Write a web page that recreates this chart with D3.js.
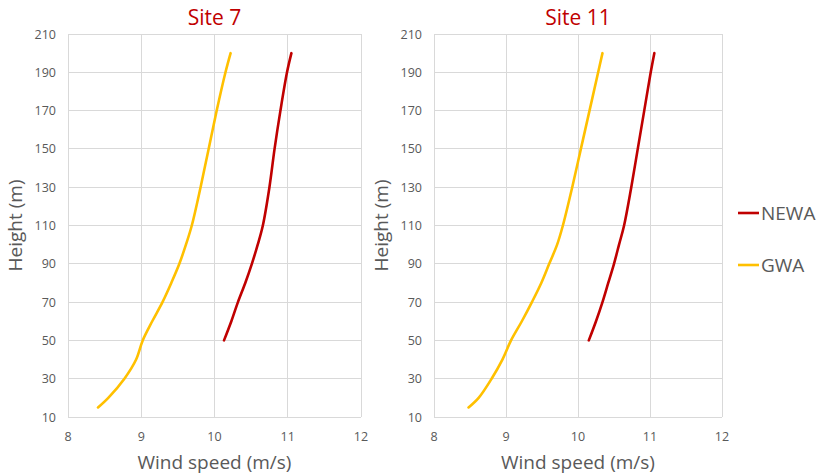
<!DOCTYPE html>
<html><head><meta charset="utf-8">
<script src="https://cdn.jsdelivr.net/npm/d3@7"></script>
<style>body{margin:0;background:#fff;} text{font-family:"Open Sans","Noto Sans",sans-serif;}</style>
</head><body><svg id="c" width="820" height="476"></svg>
<script>
const xTicks = [8, 9, 10, 11, 12];
const yTicks = [10, 30, 50, 70, 90, 110, 130, 150, 170, 190, 210];
const gwaHeights = [15, 20, 30, 40, 50, 60, 70, 80, 90, 100, 110, 130, 150, 170, 190, 200];
const newaHeights = [50, 60, 70, 80, 90, 100, 110, 130, 150, 170, 190, 200];
const site7Gwa = [8.41, 8.55, 8.77, 8.93, 9.02, 9.15, 9.29, 9.41, 9.52, 9.61, 9.69, 9.81, 9.92, 10.03, 10.15, 10.22];
const site7Newa = [10.13, 10.23, 10.32, 10.42, 10.51, 10.59, 10.66, 10.75, 10.82, 10.90, 10.99, 11.05];
const site11Gwa = [8.48, 8.62, 8.80, 8.95, 9.07, 9.22, 9.36, 9.49, 9.60, 9.71, 9.79, 9.92, 10.04, 10.16, 10.28, 10.34];
const site11Newa = [10.15, 10.25, 10.34, 10.42, 10.50, 10.57, 10.64, 10.74, 10.83, 10.92, 11.01, 11.06];
const titles = ["Site 7", "Site 11"];
const seriesNames = ["NEWA", "GWA"];
const colors = {NEWA: "#c00000", GWA: "#ffc000"};

const svg = d3.select("#c");
const panels = [
  {title: titles[0], x0: 68, x1: 361, gwa: site7Gwa, newa: site7Newa},
  {title: titles[1], x0: 434, x1: 722, gwa: site11Gwa, newa: site11Newa}
];
const yTop = 34, yBot = 417;
const gray = "#595959";

panels.forEach(p => {
  const x = d3.scaleLinear().domain([8, 12]).range([p.x0, p.x1]);
  const y = d3.scaleLinear().domain([10, 210]).range([yBot, yTop]);
  const g = svg.append("g");
  g.selectAll(".gx").data(xTicks).join("line")
    .attr("x1", d => x(d)).attr("x2", d => x(d)).attr("y1", yTop).attr("y2", yBot)
    .attr("stroke", "#d9d9d9").attr("stroke-width", 1).attr("shape-rendering", "crispEdges");
  g.selectAll(".gy").data(yTicks).join("line")
    .attr("x1", p.x0).attr("x2", p.x1).attr("y1", d => y(d)).attr("y2", d => y(d))
    .attr("stroke", "#d9d9d9").attr("stroke-width", 1).attr("shape-rendering", "crispEdges");
  g.selectAll(".tx").data(xTicks).join("text")
    .attr("x", d => x(d)).attr("y", 441).attr("text-anchor", "middle")
    .attr("font-size", 12.5).attr("fill", gray).text(d => d);
  g.selectAll(".ty").data(yTicks).join("text")
    .attr("x", p.x0 - 12).attr("y", d => y(d) + 4.5).attr("text-anchor", "end")
    .attr("font-size", 12.5).attr("fill", gray).text(d => d);
  g.append("text").attr("x", (p.x0 + p.x1) / 2).attr("y", 469).attr("text-anchor", "middle")
    .attr("font-size", 19).attr("fill", gray).text("Wind speed (m/s)");
  g.append("text").attr("transform", `translate(${p.x0 - 46},${(yTop + yBot) / 2}) rotate(-90)`)
    .attr("text-anchor", "middle").attr("font-size", 19).attr("fill", gray).text("Height (m)");
  g.append("text").attr("x", (p.x0 + p.x1) / 2).attr("y", 25).attr("text-anchor", "middle")
    .attr("font-size", 21).attr("fill", "#c00000").text(p.title);
  const line = d3.line().x(d => x(d[0])).y(d => y(d[1])).curve(d3.curveCatmullRom.alpha(0.5));
  g.append("path").datum(p.gwa.map((v, i) => [v, gwaHeights[i]]))
    .attr("d", line).attr("fill", "none").attr("stroke", colors.GWA).attr("stroke-width", 2.6)
    .attr("stroke-linecap", "round");
  g.append("path").datum(p.newa.map((v, i) => [v, newaHeights[i]]))
    .attr("d", line).attr("fill", "none").attr("stroke", colors.NEWA).attr("stroke-width", 2.6)
    .attr("stroke-linecap", "round");
});

const leg = svg.append("g");
seriesNames.forEach((s, i) => {
  const yy = 213 + i * 52;
  leg.append("line").attr("x1", 738).attr("x2", 759).attr("y1", yy).attr("y2", yy)
    .attr("stroke", colors[s]).attr("stroke-width", 2.6);
  leg.append("text").attr("x", 761).attr("y", yy + 7).attr("font-size", 19).attr("fill", gray).text(s);
});
</script></body></html>
